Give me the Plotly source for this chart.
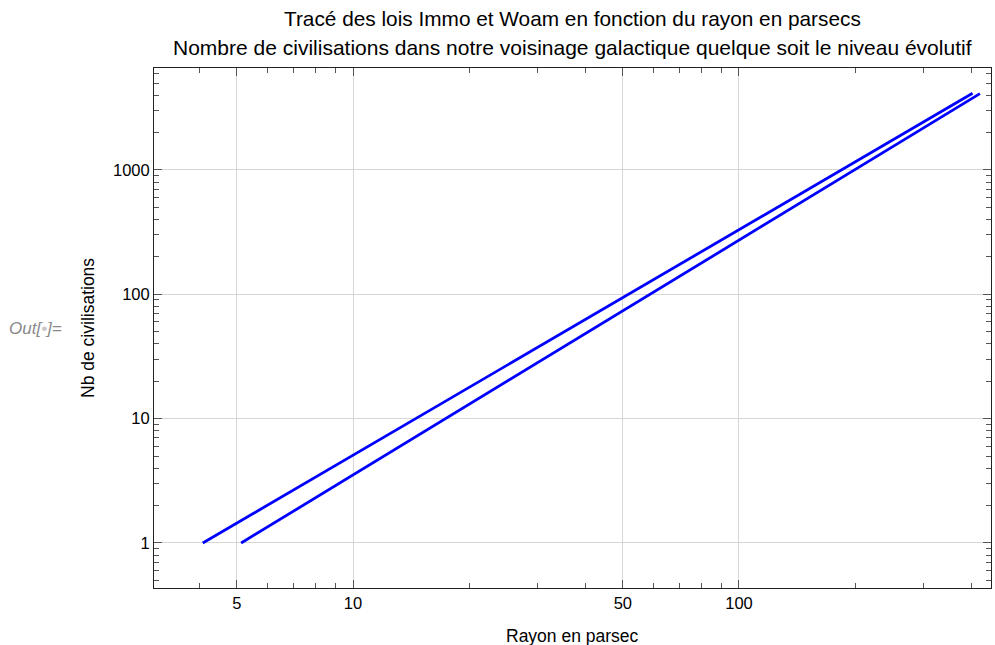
import plotly.graph_objects as go

# Data (log-log straight lines)
immo_x = [4.08, 50, 403]
immo_y = [1, 94, 4140]
woam_x = [5.13, 50, 421]
woam_y = [1, 74, 4110]

x_ticks = [5, 10, 50, 100]
x_labels = ["5", "10", "50", "100"]
y_ticks = [1, 10, 100, 1000]
y_labels = ["1", "10", "100", "1000"]

title1 = "Tracé des lois Immo et Woam en fonction du rayon en parsecs"
title2 = "Nombre de civilisations dans notre voisinage galactique quelque soit le niveau évolutif"
xlabel = "Rayon en parsec"
ylabel = "Nb de civilisations"

FONT = "Liberation Sans, Arial, sans-serif"

fig = go.Figure()
fig.add_trace(go.Scatter(x=immo_x, y=immo_y, mode="lines", name="Immo",
                         line=dict(color="#0000ff", width=2.8)))
fig.add_trace(go.Scatter(x=woam_x, y=woam_y, mode="lines", name="Woam",
                         line=dict(color="#0000ff", width=2.8)))

axis_common = dict(
    type="log",
    showline=True, linecolor="#222222", linewidth=1, mirror="allticks",
    ticks="inside", ticklen=8, tickwidth=1, tickcolor="#555555",
    showgrid=True, gridcolor="#d6d6d6", gridwidth=1,
    zeroline=False,
    tickfont=dict(family=FONT, size=16.5, color="#000000"),
    tickmode="array",
    minor=dict(ticks="inside", ticklen=5, tickwidth=1, tickcolor="#555555",
               dtick="D1", showgrid=False),
)

fig.update_xaxes(**axis_common, range=[0.4843, 2.653],
                 tickvals=x_ticks, ticktext=x_labels)
fig.update_yaxes(**axis_common, range=[-0.362, 3.82],
                 tickvals=y_ticks, ticktext=y_labels)

fig.update_layout(
    width=995, height=645,
    margin=dict(l=154, r=4, t=68, b=57),
    paper_bgcolor="white", plot_bgcolor="white",
    showlegend=False,
    font=dict(family=FONT, color="#000000"),
    annotations=[
        dict(text=title1, x=0.5, y=1.096, xref="paper", yref="paper",
             xanchor="center", yanchor="middle", showarrow=False,
             font=dict(family=FONT, size=20.8, color="#000000")),
        dict(text=title2, x=0.5, y=1.0385, xref="paper", yref="paper",
             xanchor="center", yanchor="middle", showarrow=False,
             font=dict(family=FONT, size=21, color="#000000")),
        dict(text=xlabel, x=0.5, y=-0.0923, xref="paper", yref="paper",
             xanchor="center", yanchor="middle", showarrow=False,
             font=dict(family=FONT, size=17.5, color="#000000")),
        dict(text=ylabel, x=-0.0789, y=0.5, xref="paper", yref="paper",
             xanchor="center", yanchor="middle", showarrow=False, textangle=-90,
             font=dict(family=FONT, size=17.5, color="#000000")),
        dict(text="<i>Out[<span style='color:#c8c8c8'>•</span>]=</i>",
             x=-0.141, y=0.5, xref="paper", yref="paper",
             xanchor="center", yanchor="middle", showarrow=False,
             font=dict(family=FONT, size=17, color="#8a8a8a")),
    ],
)

fig.write_html("out.html", config={"displayModeBar": False},
               post_script="document.body.style.margin='0';document.body.style.padding='0';")
